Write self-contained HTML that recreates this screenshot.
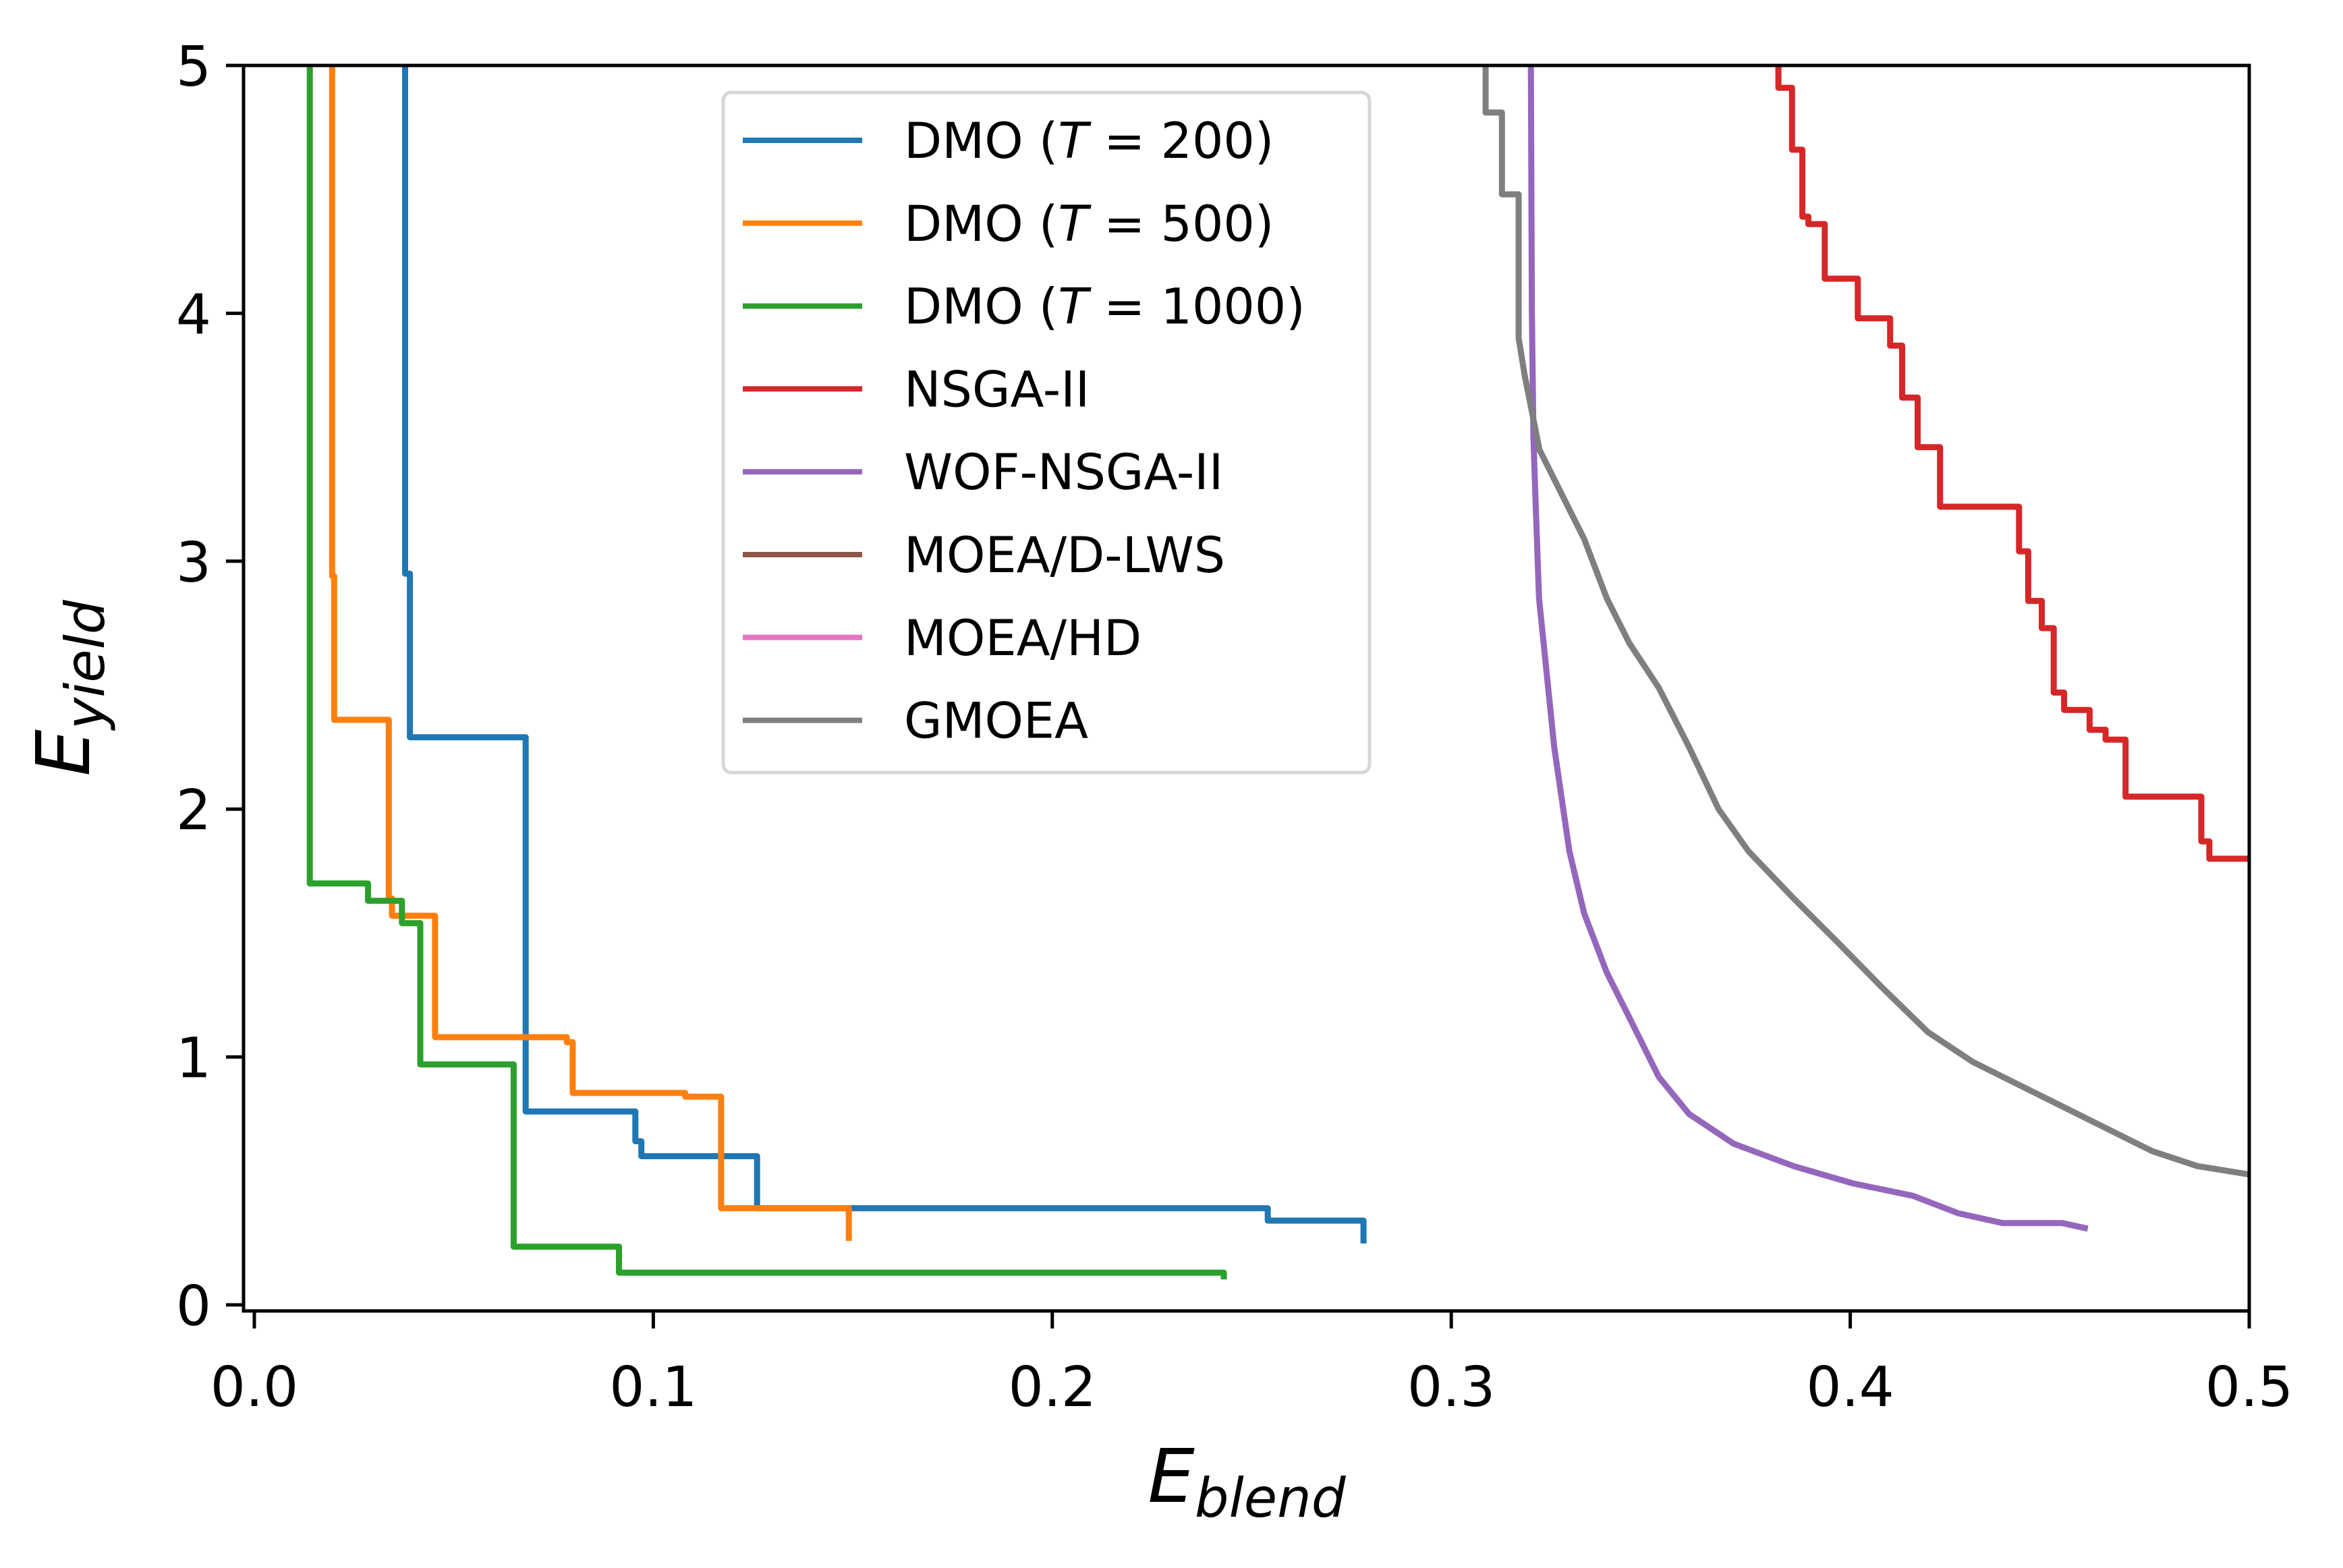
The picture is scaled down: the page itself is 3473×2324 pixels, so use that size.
<!DOCTYPE html>
<html><head><meta charset="utf-8"><style>
html,body{margin:0;padding:0;background:#fff;}
svg{display:block;font-family:"DejaVu Sans","Liberation Sans",sans-serif;}
</style></head><body>
<svg id="chart" width="3473" height="2324" viewBox="0 0 3473 2324" xmlns="http://www.w3.org/2000/svg">
<rect x="0" y="0" width="3473" height="2324" fill="#fff"/>
<g id="plot"></g>
<g id="axes"></g>
<g id="legend"></g>
</svg>
<script>
const xTicks = [0.0, 0.1, 0.2, 0.3, 0.4, 0.5];
const xTickLabels = ["0.0", "0.1", "0.2", "0.3", "0.4", "0.5"];
const yTicks = [0, 1, 2, 3, 4, 5];
const yTickLabels = ["0", "1", "2", "3", "4", "5"];
const seriesNames = ["DMO (T = 200)", "DMO (T = 500)", "DMO (T = 1000)", "NSGA-II", "WOF-NSGA-II", "MOEA/D-LWS", "MOEA/HD", "GMOEA"];
const dmo200X = [0.0378, 0.039, 0.068, 0.0955, 0.097, 0.126, 0.254, 0.278, 0.278];
const dmo200Y = [5.2, 2.95, 2.29, 0.78, 0.66, 0.60, 0.39, 0.34, 0.26];
const dmo500X = [0.0195, 0.020, 0.0337, 0.0345, 0.0453, 0.0783, 0.0798, 0.108, 0.117, 0.149, 0.149];
const dmo500Y = [5.2, 2.94, 2.36, 1.64, 1.57, 1.08, 1.06, 0.855, 0.84, 0.39, 0.27];
const dmo1000X = [0.0139, 0.0285, 0.037, 0.0416, 0.065, 0.0914, 0.243, 0.243];
const dmo1000Y = [5.2, 1.70, 1.63, 1.54, 0.97, 0.235, 0.13, 0.115];
const nsgaX = [0.382, 0.3854, 0.388, 0.3895, 0.3936, 0.4019, 0.410, 0.413, 0.4169, 0.4225, 0.4423, 0.4446, 0.448, 0.451, 0.4536, 0.46, 0.464, 0.469, 0.488, 0.490, 0.52];
const nsgaY = [5.2, 4.91, 4.66, 4.39, 4.36, 4.14, 3.98, 3.87, 3.66, 3.46, 3.22, 3.04, 2.84, 2.73, 2.47, 2.40, 2.32, 2.28, 2.05, 1.87, 1.80];
const wofX = [0.3199, 0.3202, 0.3206, 0.321, 0.322, 0.3258, 0.3296, 0.3333, 0.339, 0.3446, 0.352, 0.3596, 0.3708, 0.3858, 0.4007, 0.4157, 0.427, 0.4382, 0.4532, 0.4588];
const wofY = [5.2, 4.0, 3.5, 3.3, 2.85, 2.25, 1.83, 1.58, 1.34, 1.16, 0.92, 0.77, 0.65, 0.56, 0.49, 0.44, 0.37, 0.33, 0.33, 0.31];
const gmoeaX = [0.3086, 0.3086, 0.3127, 0.3127, 0.3169, 0.3169, 0.3184, 0.3221, 0.3277, 0.3333, 0.339, 0.3446, 0.352, 0.3596, 0.367, 0.3745, 0.3858, 0.397, 0.408, 0.4195, 0.4307, 0.4457, 0.4607, 0.4757, 0.487, 0.51];
const gmoeaY = [5.2, 4.81, 4.81, 4.48, 4.48, 3.9, 3.75, 3.45, 3.27, 3.09, 2.85, 2.67, 2.49, 2.25, 2.0, 1.83, 1.64, 1.46, 1.28, 1.10, 0.98, 0.86, 0.74, 0.62, 0.56, 0.50];
const colors = ["#1f77b4", "#ff7f0e", "#2ca02c", "#d62728", "#9467bd", "#8c564b", "#e377c2", "#7f7f7f"];

const NS = "http://www.w3.org/2000/svg";
const L = 361, R = 3334, T = 97, B = 1943;
const X0 = 377, X1 = 3334, Y0 = 1934, Y5 = 97;
function sx(v){ return X0 + (X1 - X0) * v / 0.5; }
function sy(v){ return Y0 + (Y5 - Y0) * v / 5; }
function mk(tag, attrs, parent){ const e = document.createElementNS(NS, tag); for (const k in attrs) e.setAttribute(k, attrs[k]); parent.appendChild(e); return e; }

const svg = document.getElementById('chart');
const plot = document.getElementById('plot');
const axes = document.getElementById('axes');
const legend = document.getElementById('legend');

const defs = mk('defs', {}, svg);
const cp = mk('clipPath', {id: 'clip'}, defs);
mk('rect', {x: L, y: T, width: R - L, height: B - T}, cp);
plot.setAttribute('clip-path', 'url(#clip)');

function stepPath(xs, ys){
  let d = 'M' + sx(xs[0]).toFixed(1) + ',' + sy(ys[0]).toFixed(1);
  for (let i = 1; i < xs.length; i++){
    d += ' V' + sy(ys[i]).toFixed(1) + ' H' + sx(xs[i]).toFixed(1);
  }
  return d;
}
function linePath(xs, ys){
  let d = '';
  for (let i = 0; i < xs.length; i++){
    d += (i ? ' L' : 'M') + sx(xs[i]).toFixed(1) + ',' + sy(ys[i]).toFixed(1);
  }
  return d;
}
const series = [
  [dmo200X, dmo200Y, 0, 'dmo-200-line', true],
  [dmo500X, dmo500Y, 1, 'dmo-500-line', true],
  [dmo1000X, dmo1000Y, 2, 'dmo-1000-line', true],
  [nsgaX, nsgaY, 3, 'nsga-ii-line', true],
  [wofX, wofY, 4, 'wof-nsga-ii-line', false],
  [gmoeaX, gmoeaY, 7, 'gmoea-line', false]
];
series.forEach(s => {
  const d = s[4] ? stepPath(s[0], s[1]) : linePath(s[0], s[1]);
  const p = mk('path', {d: d, fill: 'none', stroke: colors[s[2]], 'stroke-width': 9, 'stroke-linejoin': 'round', 'stroke-linecap': 'square'}, plot);
  
  
});

const frame = mk('rect', {x: L, y: T, width: R - L, height: B - T, fill: 'none', stroke: '#000', 'stroke-width': 5}, axes);



xTicks.forEach((v, i) => {
  const x = sx(v);
  const t = mk('line', {x1: x, x2: x, y1: B, y2: B + 26, stroke: '#000', 'stroke-width': 5}, axes);
  
  
  const lb = mk('text', {x: x, y: 2084, 'font-size': 82, 'text-anchor': 'middle', fill: '#000'}, axes);
  lb.textContent = xTickLabels[i];
  
  
});
yTicks.forEach((v, i) => {
  const y = sy(v);
  const t = mk('line', {x1: L - 26, x2: L, y1: y, y2: y, stroke: '#000', 'stroke-width': 5}, axes);
  
  
  const lb = mk('text', {x: L - 48, y: y + 30, 'font-size': 82, 'text-anchor': 'end', fill: '#000'}, axes);
  lb.textContent = yTickLabels[i];
  
  
});

const xt = mk('text', {x: 1848, y: 2226, 'font-size': 110, 'text-anchor': 'middle', 'font-style': 'italic', fill: '#000'}, axes);
xt.innerHTML = 'E<tspan font-size="80" dy="22">blend</tspan>';


const yt = mk('text', {x: 0, y: 0, 'font-size': 110, 'text-anchor': 'middle', 'font-style': 'italic', fill: '#000', transform: 'translate(132,1020) rotate(-90)'}, axes);
yt.innerHTML = 'E<tspan font-size="80" dy="22">yield</tspan>';



const box = mk('rect', {x: 1072, y: 137, width: 958, height: 1008, rx: 12, fill: '#fff', 'fill-opacity': 0.8, stroke: '#d6d6d6', 'stroke-width': 5}, legend);


const rowY0 = 208, rowStep = 122.8;
seriesNames.forEach((n, i) => {
  const y = rowY0 + i * rowStep;
  const g = mk('g', {}, legend);
  
  
  mk('line', {x1: 1101, x2: 1278, y1: y, y2: y, stroke: colors[i], 'stroke-width': 8}, g);
  const tx = mk('text', {x: 1340, y: y + 26, 'font-size': 73, fill: '#000'}, g);
  const m = n.match(/^DMO \(T = (\d+)\)$/);
  if (m) tx.innerHTML = 'DMO (<tspan font-style="italic">T</tspan> = ' + m[1] + ')';
  else tx.textContent = n;
});
</script>
</body></html>
